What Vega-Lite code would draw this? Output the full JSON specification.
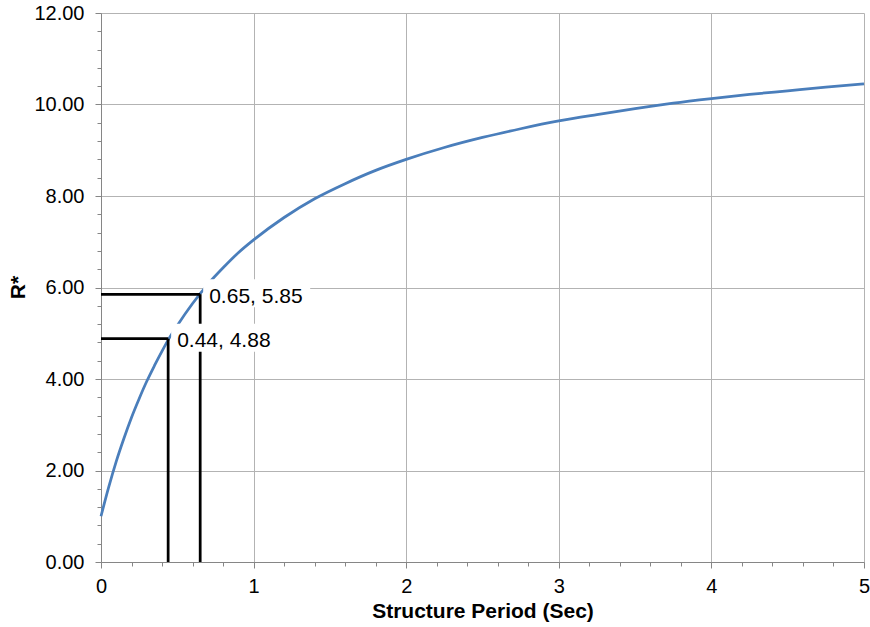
{
  "$schema": "https://vega.github.io/schema/vega-lite/v6.json",
  "width": 763,
  "height": 549,
  "autosize": "none",
  "padding": {"left": 101, "top": 13, "right": 6, "bottom": 65},
  "background": "white",
  "config": {
    "view": {"stroke": null},
    "font": "Liberation Sans",
    "axis": {
      "labelFont": "Liberation Sans",
      "titleFont": "Liberation Sans",
      "labelFontSize": 20,
      "titleFontSize": 21,
      "labelColor": "black",
      "titleColor": "black",
      "titleFontWeight": "bold",
      "domainColor": "#868686",
      "tickColor": "#868686",
      "gridColor": "#b3b3b3",
      "domainWidth": 1,
      "gridWidth": 1,
      "labelOverlap": false,
      "labelFlush": false
    }
  },
  "datasets": {
    "curve": [
      {"T": 0, "R": 1.0},
      {"T": 0.05, "R": 1.63},
      {"T": 0.1, "R": 2.2},
      {"T": 0.15, "R": 2.7},
      {"T": 0.2, "R": 3.16},
      {"T": 0.25, "R": 3.57},
      {"T": 0.3, "R": 3.95},
      {"T": 0.35, "R": 4.29},
      {"T": 0.4, "R": 4.61},
      {"T": 0.45, "R": 4.91},
      {"T": 0.5, "R": 5.17},
      {"T": 0.6, "R": 5.65},
      {"T": 0.7, "R": 6.07},
      {"T": 0.8, "R": 6.43},
      {"T": 0.9, "R": 6.76},
      {"T": 1.0, "R": 7.04},
      {"T": 1.2, "R": 7.53},
      {"T": 1.4, "R": 7.94},
      {"T": 1.6, "R": 8.27},
      {"T": 1.8, "R": 8.56},
      {"T": 2.0, "R": 8.8},
      {"T": 2.25, "R": 9.06},
      {"T": 2.5, "R": 9.28},
      {"T": 2.75, "R": 9.47},
      {"T": 3.0, "R": 9.64},
      {"T": 3.25, "R": 9.78},
      {"T": 3.5, "R": 9.91},
      {"T": 3.75, "R": 10.03},
      {"T": 4.0, "R": 10.13},
      {"T": 4.25, "R": 10.22},
      {"T": 4.5, "R": 10.3},
      {"T": 4.75, "R": 10.38},
      {"T": 5.0, "R": 10.45}
    ],
    "points": [
      {"T": 0.44, "R": 4.88, "label": "0.44, 4.88"},
      {"T": 0.65, "R": 5.85, "label": "0.65, 5.85"}
    ]
  },
  "encoding": {
    "x": {
      "field": "T",
      "type": "quantitative",
      "scale": {"domain": [0, 5], "nice": false, "zero": false},
      "axis": {
        "title": "Structure Period (Sec)",
        "values": [0,0.2,0.4,0.6,0.8,1,1.2,1.4,1.6,1.8,2,2.2,2.4,2.6,2.8,3,3.2,3.4,3.6,3.8,4,4.2,4.4,4.6,4.8,5],
        "labelExpr": "abs(datum.value - round(datum.value)) < 0.001 ? format(datum.value, 'd') : ''",
        "tickSize": {"condition": {"test": "abs(datum.value - round(datum.value)) < 0.001", "value": 6}, "value": 4},
        "gridOpacity": {"condition": {"test": "abs(datum.value - round(datum.value)) < 0.001", "value": 1}, "value": 0},
        "labelPadding": 8,
        "titleY": 55,
        "titleBaseline": "alphabetic"
      }
    },
    "y": {
      "field": "R",
      "type": "quantitative",
      "scale": {"domain": [0, 12], "nice": false},
      "axis": {
        "title": "R*",
        "values": [0,0.4,0.8,1.2,1.6,2,2.4,2.8,3.2,3.6,4,4.4,4.8,5.2,5.6,6,6.4,6.8,7.2,7.6,8,8.4,8.8,9.2,9.6,10,10.4,10.8,11.2,11.6,12],
        "labelExpr": "abs(datum.value/2 - round(datum.value/2)) < 0.001 ? format(datum.value, '.2f') : ''",
        "tickSize": {"condition": {"test": "abs(datum.value/2 - round(datum.value/2)) < 0.001", "value": 6}, "value": 4},
        "gridOpacity": {"condition": {"test": "abs(datum.value/2 - round(datum.value/2)) < 0.001", "value": 1}, "value": 0},
        "labelPadding": 11,
        "titleX": -83,
        "titleY": 274,
        "titleAlign": "center",
        "titleBaseline": "middle"
      }
    }
  },
  "layer": [
    {
      "data": {"name": "curve"},
      "mark": {"type": "line", "color": "#4a7ebb", "strokeWidth": 2.75, "interpolate": "monotone"}
    },
    {
      "data": {"name": "points"},
      "mark": {"type": "rule", "color": "black", "strokeWidth": 2.75},
      "encoding": {
        "y": {"datum": 0, "type": "quantitative"},
        "y2": {"field": "R"}
      }
    },
    {
      "data": {"name": "points"},
      "mark": {"type": "rule", "color": "black", "strokeWidth": 2.75},
      "encoding": {
        "x": {"datum": 0, "type": "quantitative"},
        "x2": {"field": "T"}
      }
    },
    {
      "data": {"name": "points"},
      "mark": {"type": "rect", "width": 107, "height": 28, "xOffset": 56.5, "yOffset": -1, "fill": "white"}
    },
    {
      "data": {"name": "points"},
      "mark": {"type": "text", "align": "left", "baseline": "alphabetic", "dx": 9, "dy": 8.5, "fontSize": 21, "font": "Liberation Sans", "color": "black"},
      "encoding": {"text": {"field": "label"}}
    }
  ]
}
